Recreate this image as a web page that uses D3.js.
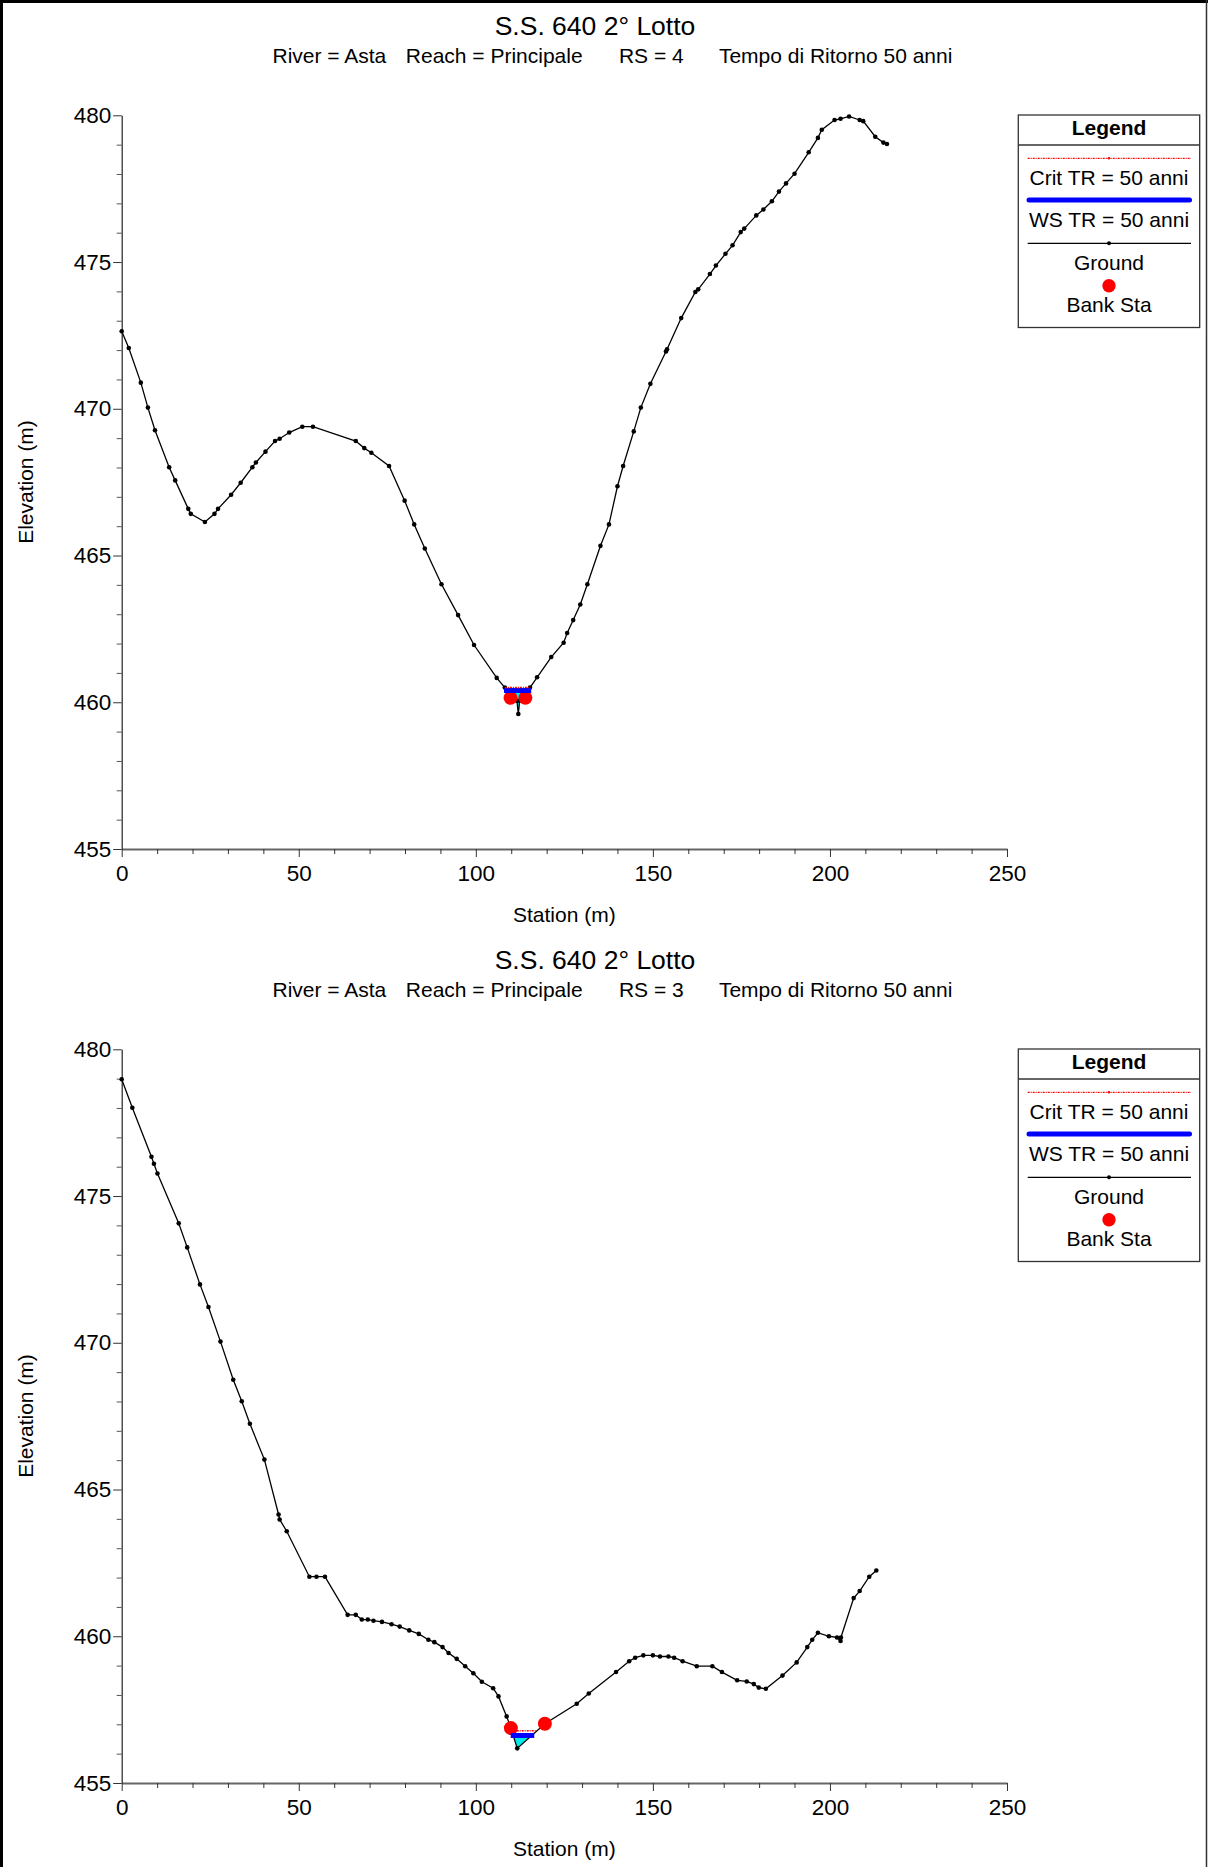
<!DOCTYPE html>
<html><head><meta charset="utf-8">
<script src="https://cdn.jsdelivr.net/npm/d3@7"></script>
<style>
body{margin:0;background:#fff}
svg{display:block}
text{font-family:"Liberation Sans",Arial,sans-serif;fill:#000}
</style>
</head><body>
<svg id="chart" width="1208" height="1867"></svg>
<script>
// ---------- text ----------
const titleText = "S.S. 640 2° Lotto";
const subtitleParts = ["River = Asta", "Reach = Principale", "RS = ", "Tempo di Ritorno 50 anni"];
const riverStations = ["4", "3"];
const xLabel = "Station (m)";
const yLabel = "Elevation (m)";
const legendTitle = "Legend";
const legendLabels = ["Crit TR = 50 anni", "WS TR = 50 anni", "Ground", "Bank Sta"];

// ---------- ticks ----------
const xTickValues = [0, 50, 100, 150, 200, 250];
const xMinorTicks = [10,20,30,40,60,70,80,90,110,120,130,140,160,170,180,190,210,220,230,240];
const yTickValues = [455, 460, 465, 470, 475, 480];
const yMinorTicks = [456,457,458,459,461,462,463,464,466,467,468,469,471,472,473,474,476,477,478,479];

// ---------- RS = 4 ----------
const rs4Station = [0,2.0,5.4,7.4,9.4,13.4,15.1,18.8,19.5,23.5,26.2,27.2,30.9,33.6,36.9,37.9,40.6,43.3,44.6,47.3,51.0,54.0,66.1,68.5,70.5,75.5,79.9,82.6,85.6,90.3,95.0,99.5,105.9,108.2,109.8,111.6,112.0,112.4,114.0,115.3,117.3,121.3,124.8,125.8,127.5,129.5,131.5,135.2,137.6,140.0,141.6,144.6,146.6,149.3,153.7,154.0,158.0,162.0,162.8,166.1,167.8,170.5,172.5,174.8,175.8,179.2,181.2,183.6,185.6,187.6,190.0,194.0,196.6,197.7,201.3,203.0,205.4,208.4,209.4,212.8,215.1,216.1];
const rs4Elev = [472.64,472.07,470.89,470.04,469.27,468.01,467.56,466.59,466.42,466.14,466.42,466.59,467.07,467.48,468.01,468.17,468.54,468.90,468.98,469.19,469.39,469.39,468.90,468.66,468.50,468.05,466.87,466.06,465.24,464.02,462.97,461.95,460.83,460.50,460.15,460.05,459.60,460.05,460.15,460.50,460.85,461.54,462.03,462.36,462.80,463.33,464.02,465.33,466.06,467.36,468.05,469.23,470.04,470.85,471.95,472.03,473.09,473.98,474.07,474.59,474.88,475.28,475.57,476.02,476.14,476.59,476.79,477.07,477.40,477.68,478.01,478.74,479.23,479.51,479.84,479.88,479.96,479.84,479.80,479.27,479.07,479.02];
const rs4BankStation = [109.8, 114.0];
const rs4BankElev = [460.15, 460.15];
const rs4WS = 460.40;
const rs4Crit = 460.50;

// ---------- RS = 3 ----------
const rs3Station = [0,3.0,8.4,9.1,10.1,16.1,18.5,22.1,24.5,27.9,31.5,33.9,36.2,40.3,44.3,44.6,46.6,53.0,55.0,57.4,63.8,66.1,67.8,69.5,71.1,73.5,76.2,78.5,81.2,83.9,86.6,88.3,90.6,92.3,94.6,97.0,99.3,101.7,104.9,106.4,108.7,109.9,111.7,119.5,128.5,131.9,139.6,143.3,145.0,147.3,150.0,152.0,154.4,156.0,158.4,162.4,166.8,169.5,173.8,176.5,178.5,179.9,181.9,186.6,190.6,193.6,195.0,196.6,199.7,202.0,203.0,203.1,206.7,208.4,211.1,213.1];
const rs3Elev = [478.98,478.01,476.34,476.10,475.77,474.07,473.25,471.99,471.22,470.04,468.74,468.01,467.24,466.02,464.15,463.98,463.58,462.03,462.03,462.03,460.73,460.73,460.57,460.57,460.53,460.49,460.41,460.33,460.20,460.08,459.88,459.80,459.63,459.43,459.23,458.98,458.74,458.45,458.23,457.95,457.27,456.87,456.18,457.02,457.70,458.05,458.78,459.15,459.27,459.35,459.35,459.31,459.31,459.27,459.15,458.98,458.98,458.78,458.50,458.46,458.37,458.25,458.21,458.66,459.11,459.63,459.88,460.12,460.00,459.96,459.84,459.96,461.30,461.54,462.03,462.24];
const rs3BankStation = [109.9, 119.5];
const rs3BankElev = [456.87, 457.02];
const rs3WS = 456.62;
const rs3Crit = 456.78;

// ---------- build panels ----------
const panels = [
  {rs: riverStations[0], st: rs4Station, el: rs4Elev, bs: rs4BankStation, be: rs4BankElev, ws: rs4WS, crit: rs4Crit, dy: 0},
  {rs: riverStations[1], st: rs3Station, el: rs3Elev, bs: rs3BankStation, be: rs3BankElev, ws: rs3WS, crit: rs3Crit, dy: 934}
];

const svg = d3.select("#chart");
const W = 1208, H = 1867;

// page frame
svg.append("line").attr("x1",1.5).attr("x2",1.5).attr("y1",0).attr("y2",H).attr("stroke","#000").attr("stroke-width",3);
svg.append("line").attr("x1",0).attr("x2",W).attr("y1",1.5).attr("y2",1.5).attr("stroke","#000").attr("stroke-width",3);
svg.append("line").attr("x1",1206.5).attr("x2",1206.5).attr("y1",0).attr("y2",H).attr("stroke","#333").attr("stroke-width",1.5);

const x = d3.scaleLinear().domain([0,250]).range([121.7,1007]);
const y = d3.scaleLinear().domain([455,480]).range([849,115.3]);

// insert crossing points with a level
function withCrossings(st, el, level){
  const pts = [];
  for (let i=0;i<st.length;i++){
    if (i>0){
      const a = el[i-1]-level, b = el[i]-level;
      if (a*b < 0){
        const t = a/(a-b);
        pts.push({s: st[i-1]+t*(st[i]-st[i-1]), e: level});
      }
    }
    pts.push({s: st[i], e: el[i]});
  }
  return pts;
}
// wetted extents around the channel minimum
function extents(st, el, level){
  let iMin = 0;
  el.forEach((v,i)=>{ if (v < el[iMin]) iMin = i; });
  let l = iMin, r = iMin;
  while (l>0 && el[l-1] <= level) l--;
  while (r<el.length-1 && el[r+1] <= level) r++;
  let sl = st[l], sr = st[r];
  if (l>0){ const t=(level-el[l])/(el[l-1]-el[l]); sl = st[l]+t*(st[l-1]-st[l]); }
  if (r<el.length-1){ const t=(level-el[r])/(el[r+1]-el[r]); sr = st[r]+t*(st[r+1]-st[r]); }
  return [sl, sr];
}

const FS = 21;
const TFS = 22.5;

panels.forEach(p => {
  const g = svg.append("g").attr("transform", `translate(0,${p.dy})`);

  // titles
  g.append("text").attr("x",595).attr("y",34.5).attr("text-anchor","middle")
    .attr("font-size",26.5).text(titleText);
  const subX = [272.5, 405.8, 618.9, 718.9];
  subtitleParts.forEach((t,i)=>{
    g.append("text").attr("x",subX[i]).attr("y",63).attr("font-size",FS)
      .text(i===2 ? t + p.rs : t);
  });

  // axes
  const xAxis = g.append("g").attr("transform","translate(0,849)")
    .call(d3.axisBottom(x).tickValues(xTickValues).tickSize(8).tickSizeOuter(0).tickPadding(8).tickFormat(d3.format("d")));
  xAxis.select(".domain").attr("stroke","#666").attr("stroke-width",2);
  xAxis.selectAll(".tick line").attr("stroke","#333");
  xAxis.selectAll("text").attr("font-size",TFS).attr("font-family","Liberation Sans, Arial, sans-serif").attr("fill","#000");
  const xMinor = g.append("g").attr("transform","translate(0,849)")
    .call(d3.axisBottom(x).tickValues(xMinorTicks).tickSize(5).tickSizeOuter(0).tickFormat(""));
  xMinor.select(".domain").remove();
  xMinor.selectAll(".tick line").attr("stroke","#333");

  const yAxis = g.append("g").attr("transform","translate(121.7,0)")
    .call(d3.axisLeft(y).tickValues(yTickValues).tickSize(8.5).tickSizeOuter(0).tickPadding(2).tickFormat(d3.format("d")));
  yAxis.select(".domain").attr("stroke","#222").attr("stroke-width",1.2);
  yAxis.selectAll(".tick line").attr("stroke","#333");
  yAxis.selectAll("text").attr("font-size",TFS).attr("font-family","Liberation Sans, Arial, sans-serif").attr("fill","#000");
  const yMinor = g.append("g").attr("transform","translate(121.7,0)")
    .call(d3.axisLeft(y).tickValues(yMinorTicks).tickSize(5).tickSizeOuter(0).tickFormat(""));
  yMinor.select(".domain").remove();
  yMinor.selectAll(".tick line").attr("stroke","#555");

  g.append("text").attr("x",564.3).attr("y",922).attr("text-anchor","middle").attr("font-size",FS).text(xLabel);
  g.append("text").attr("transform","translate(33,482) rotate(-90)").attr("text-anchor","middle").attr("font-size",FS).text(yLabel);

  // water fill
  const pts = withCrossings(p.st, p.el, p.ws);
  const area = d3.area().defined(d => d.e <= p.ws + 1e-9)
    .x(d => x(d.s)).y0(d => y(d.e)).y1(() => y(p.ws));
  g.append("path").datum(pts).attr("d", area).attr("fill","#00e8e8").attr("stroke","none");

  // ground
  const ground = p.st.map((s,i)=>({s, e: p.el[i]}));
  g.append("path").datum(ground)
    .attr("d", d3.line().x(d=>x(d.s)).y(d=>y(d.e)))
    .attr("fill","none").attr("stroke","#000").attr("stroke-width",1.3);
  g.selectAll(".gpt").data(ground).enter().append("circle")
    .attr("cx", d=>x(d.s)).attr("cy", d=>y(d.e)).attr("r",2.3).attr("fill","#000");

  // bank stations
  g.selectAll(".bank").data(p.bs.map((s,i)=>({s, e: p.be[i]}))).enter().append("circle")
    .attr("cx", d=>x(d.s)).attr("cy", d=>y(d.e)).attr("r",7).attr("fill","#ff0000");

  // water surface
  const wsExt = extents(p.st, p.el, p.ws);
  g.append("line").attr("x1", x(wsExt[0])).attr("x2", x(wsExt[1]))
    .attr("y1", y(p.ws)).attr("y2", y(p.ws))
    .attr("stroke","#0000ff").attr("stroke-width",5).attr("stroke-linecap","square");

  // critical
  const crExt = extents(p.st, p.el, p.crit);
  g.append("line").attr("x1", x(crExt[0])).attr("x2", x(crExt[1]))
    .attr("y1", y(p.crit)).attr("y2", y(p.crit))
    .attr("stroke","#ff0000").attr("stroke-width",1.5).attr("stroke-dasharray","2,1,1,1");

  // legend
  const L = g.append("g");
  L.append("rect").attr("x",1018.3).attr("y",115).attr("width",181.4).attr("height",212.5)
    .attr("fill","#fff").attr("stroke","#333").attr("stroke-width",1.3);
  L.append("line").attr("x1",1018.3).attr("x2",1199.7).attr("y1",145).attr("y2",145).attr("stroke","#333").attr("stroke-width",1.3);
  L.append("text").attr("x",1109).attr("y",135).attr("text-anchor","middle").attr("font-size",FS).attr("font-weight","bold").text(legendTitle);
  L.append("line").attr("x1",1027.7).attr("x2",1191).attr("y1",158.3).attr("y2",158.3)
    .attr("stroke","#ff0000").attr("stroke-width",1.2).attr("stroke-dasharray","2,1,1,1");
  L.append("circle").attr("cx",1109).attr("cy",158.3).attr("r",1.3).attr("fill","#ff0000");
  L.append("text").attr("x",1109).attr("y",185).attr("text-anchor","middle").attr("font-size",FS).text(legendLabels[0]);
  L.append("line").attr("x1",1029).attr("x2",1189.5).attr("y1",200).attr("y2",200)
    .attr("stroke","#0000ff").attr("stroke-width",5).attr("stroke-linecap","round");
  L.append("text").attr("x",1109).attr("y",226.7).attr("text-anchor","middle").attr("font-size",FS).text(legendLabels[1]);
  L.append("line").attr("x1",1027.7).attr("x2",1191).attr("y1",243.3).attr("y2",243.3)
    .attr("stroke","#000").attr("stroke-width",1.3);
  L.append("circle").attr("cx",1109).attr("cy",243.3).attr("r",2).attr("fill","#000");
  L.append("text").attr("x",1109).attr("y",270).attr("text-anchor","middle").attr("font-size",FS).text(legendLabels[2]);
  L.append("circle").attr("cx",1109).attr("cy",285.7).attr("r",6.7).attr("fill","#ff0000");
  L.append("text").attr("x",1109).attr("y",312).attr("text-anchor","middle").attr("font-size",FS).text(legendLabels[3]);
});
</script>
</body></html>
